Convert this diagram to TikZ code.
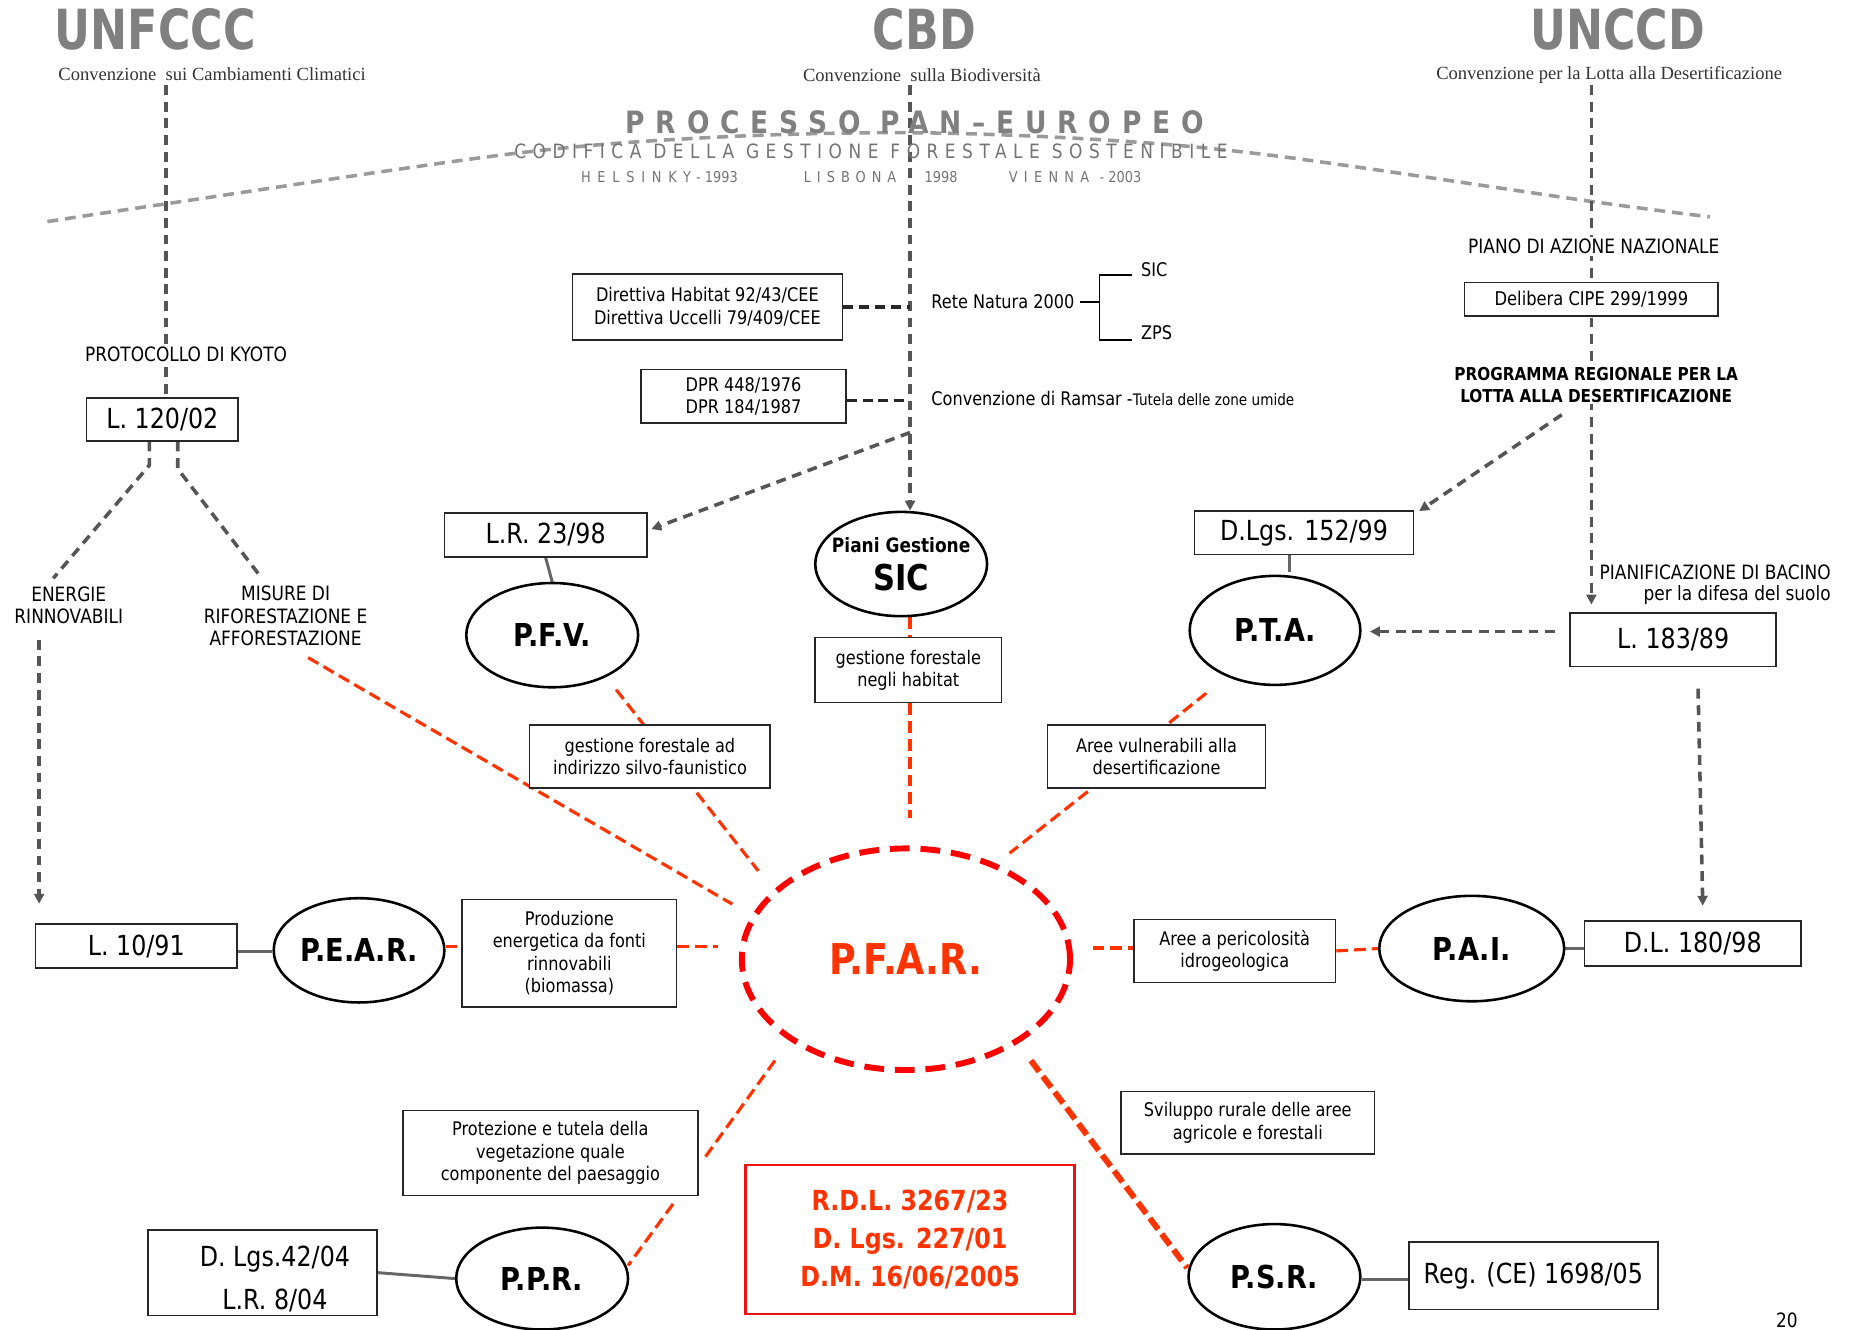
\documentclass[tikz,border=0pt]{standalone}
\usepackage{fontspec}
\setmainfont[FakeStretch=0.86]{DejaVu Sans}
\newfontfamily\ttlfont[FakeStretch=0.8]{DejaVu Sans}
\newfontfamily\serfont{Liberation Serif}
\usetikzlibrary{shapes.geometric,arrows.meta,calc}
\definecolor{dgrey}{HTML}{555555}
\definecolor{lgrey}{HTML}{9A9A9A}
\definecolor{tgrey}{HTML}{808080}
\definecolor{ored}{HTML}{FF3300}
\definecolor{pred}{HTML}{FF0000}
\definecolor{boxred}{HTML}{EE1111}
\pgfdeclarelayer{bg}
\pgfsetlayers{bg,main}
\begin{document}
\begin{tikzpicture}[x=0.6pt,y=-0.6pt,
  box/.style={draw=black!85, line width=0.8pt, fill=white, inner sep=0pt, align=center, font=\fontsize{9.5}{11.4}\selectfont},
  bigbox/.style={box, font=\fontsize{14}{16}\selectfont},
  ell/.style={ellipse, draw=black, line width=1.3pt, fill=white, inner sep=0pt, align=center, font=\bfseries\fontsize{16}{18}\selectfont},
  lbl/.style={align=center, inner sep=1pt, font=\fontsize{10}{11.4}\selectfont},
  title/.style={text=tgrey, font=\ttlfont\bfseries\fontsize{28}{30}\selectfont, inner sep=0pt},
  subt/.style={text=black!80, font=\serfont\fontsize{9.4}{11}\selectfont, inner sep=1pt},
  gdash/.style={draw=dgrey, line width=1.8pt, dash pattern=on 5pt off 3.4pt},
  kdash/.style={draw=black!85, line width=1.8pt, dash pattern=on 5pt off 3pt},
  rdash/.style={draw=ored, line width=1.6pt, dash pattern=on 6pt off 3pt},
  gsolid/.style={draw=black!60, line width=1.5pt},
  tip/.style={-{Triangle[length=5pt,width=5pt]}},
]
\useasboundingbox (0,0) rectangle (1568,1122);

% ---------------- titles ----------------
\node[title] (unfccc) at (131,25) {UNFCCC};
\node[subt] (s1) at (179,63) {Convenzione\ \ sui Cambiamenti Climatici};
\node[title] (cbd) at (780,25) {CBD};
\node[subt] (s2) at (778,63) {Convenzione\ \ sulla Biodiversità};
\node[title] (unccd) at (1365,25) {UNCCD};
\node[subt] (s3) at (1358,63) {Convenzione per la Lotta alla Desertificazione};

\node[text=tgrey, inner sep=0pt, font=\bfseries\fontsize{15.6}{18}\selectfont\addfontfeature{LetterSpace=35}] (pan) at (772,103) {PROCESSO PAN–EUROPEO};
\node[text=black!55, inner sep=0pt, font=\fontsize{10}{12}\selectfont\addfontfeature{LetterSpace=33}] (cod) at (735,128) {CODIFICA DELLA GESTIONE FORESTALE SOSTENIBILE};
\node[text=black!55, anchor=west, inner sep=0pt, font=\fontsize{7.6}{9}\selectfont] (hel) at (490,149) {{\addfontfeature{LetterSpace=45}HELSINKY-} 1993};
\node[text=black!55, anchor=west, inner sep=0pt, font=\fontsize{7.6}{9}\selectfont] (lis) at (678,149) {{\addfontfeature{LetterSpace=40}LISBONA}};
\node[text=black!55, anchor=west, inner sep=0pt, font=\fontsize{7.6}{9}\selectfont] (y98) at (780,149) {1998};
\node[text=black!55, anchor=west, inner sep=0pt, font=\fontsize{7.6}{9}\selectfont] (vie) at (851,149) {{\addfontfeature{LetterSpace=42}VIENNA -} 2003};

% ---------------- text labels ----------------
\node[lbl, fill=white] (kyoto) at (157,299) {PROTOCOLLO DI KYOTO};
\node[lbl] (ener) at (58,511) {ENERGIE\\RINNOVABILI};
\node[lbl] (misure) at (241,520) {MISURE DI\\RIFORESTAZIONE E\\AFFORESTAZIONE};
\node[lbl, anchor=west, font=\fontsize{9.5}{11}\selectfont] (rn) at (784,255) {Rete Natura 2000};
\node[lbl, anchor=west, font=\fontsize{9.5}{11}\selectfont] (sicl) at (961,228) {SIC};
\node[lbl, anchor=west, font=\fontsize{9.5}{11}\selectfont] (zps) at (961,281) {ZPS};
\node[lbl, anchor=west, font=\fontsize{9.5}{11}\selectfont] (ramsar) at (784,336) {Convenzione di Ramsar -{\fontsize{8}{10}\selectfont Tutela delle zone umide}};
\node[lbl, fill=white] (pian) at (1345,208) {PIANO DI AZIONE NAZIONALE};
\node[lbl, fill=white, font=\bfseries\fontsize{9}{10.8}\selectfont] (prog) at (1347,325) {PROGRAMMA REGIONALE PER LA\\LOTTA ALLA DESERTIFICAZIONE};
\node[lbl, anchor=west] (bac1) at (1348,483) {PIANIFICAZIONE DI BACINO};
\node[lbl, anchor=west] (bac2) at (1385,502) {per la difesa del suolo};
\node[lbl, anchor=south, inner sep=0pt] (pg) at (1508,1121) {20};

% ---------------- boxes ----------------
\node[box, minimum width=136.8pt, minimum height=33.6pt] (dir) at (597,259) {Direttiva Habitat 92/43/CEE\\Direttiva Uccelli 79/409/CEE};
\node[box, minimum width=103.8pt, minimum height=27pt] (dpr) at (627.5,334.5) {DPR 448/1976\\DPR 184/1987};
\node[bigbox, minimum width=76.8pt, minimum height=21.6pt] (l120) at (137,354) {L. 120/02};
\node[bigbox, minimum width=102.6pt, minimum height=22.2pt] (lr23) at (460.5,451.5) {L.R. 23/98};
\node[bigbox, minimum width=111pt, minimum height=22.2pt] (dlgs152) at (1100.5,449.5) {D.Lgs. 152/99};
\node[box, minimum width=128.4pt, minimum height=16.8pt, font=\fontsize{9.6}{11}\selectfont] (cipe) at (1343,252.5) {Delibera CIPE 299/1999};
\node[bigbox, minimum width=104.4pt, minimum height=27pt] (l183) at (1412,540) {L. 183/89};
\node[bigbox, minimum width=109.8pt, minimum height=22.8pt] (dl180) at (1428.5,796) {D.L. 180/98};
\node[bigbox, minimum width=102pt, minimum height=22.2pt] (l1091) at (115,798.5) {L. 10/91};
\node[box, minimum width=108.6pt, minimum height=54.6pt] (prod) at (480.5,804.5) {Produzione\\energetica da fonti\\rinnovabili\\(biomassa)};
\node[box, minimum width=121.8pt, minimum height=31.8pt] (gfsf) at (548.5,638.5) {gestione forestale ad\\indirizzo silvo-faunistico};
\node[box, minimum width=94.2pt, minimum height=33pt] (gfh) at (766.5,565.5) {gestione forestale\\negli habitat};
\node[box, minimum width=110.4pt, minimum height=31.8pt] (avd) at (976,638.5) {Aree vulnerabili alla\\desertificazione};
\node[box, minimum width=102pt, minimum height=31.8pt] (api) at (1042,802.5) {Aree a pericolosità\\idrogeologica};
\node[box, minimum width=149.4pt, minimum height=43.2pt] (prot) at (464.5,973) {Protezione e tutela della\\vegetazione quale\\componente del paesaggio};
\node[bigbox, minimum width=115.8pt, minimum height=43.2pt, font=\fontsize{14}{21.6}\selectfont] (dlgs42) at (221.5,1074) {\hspace*{12.6pt}\rule{0pt}{17pt}D. Lgs.42/04\\\hspace*{12.6pt}L.R. 8/04};
\node[box, draw=boxred, line width=1.3pt, text=ored, minimum width=166.8pt, minimum height=75.6pt, font=\bfseries\fontsize{14}{19.2}\selectfont] (rdl) at (768,1046) {R.D.L. 3267/23\\D. Lgs. 227/01\\D.M. 16/06/2005};
\node[box, minimum width=128.4pt, minimum height=31.8pt] (svil) at (1053,947.5) {Sviluppo rurale delle aree\\agricole e forestali};
\node[bigbox, minimum width=126pt, minimum height=34.2pt] (reg) at (1294,1076.5) {Reg. (CE) 1698/05};

% ---------------- ellipses ----------------
\node[ell, minimum width=86.4pt, minimum height=52.8pt] (pear) at (303,802) {P.E.A.R.};
\node[ell, minimum width=87pt, minimum height=52.8pt] (pfv) at (466,536) {P.F.V.};
\node[ell, minimum width=87pt, minimum height=52.8pt] (sic) at (760.5,476) {{\fontsize{10}{12}\selectfont\makebox[0pt][c]{Piani Gestione}}\\[1pt]{\fontsize{18}{20}\selectfont\makebox[0pt][c]{SIC}}};
\node[ell, minimum width=86.4pt, minimum height=55.2pt] (pta) at (1076,532) {P.T.A.};
\node[ell, minimum width=93.6pt, minimum height=53.4pt] (pai) at (1242,800.5) {P.A.I.};
\node[ell, draw=pred, line width=3pt, dash pattern=on 10pt off 5.5pt, text=ored, fill=none, minimum width=166.2pt, minimum height=112.2pt, font=\bfseries\fontsize{21.5}{24}\selectfont] (pfar) at (764.5,809.5) {P.F.A.R.};
\node[ell, minimum width=87pt, minimum height=51.6pt] (ppr) at (457.5,1079) {P.P.R.};
\node[ell, minimum width=87pt, minimum height=53.4pt] (psr) at (1075.5,1077.5) {P.S.R.};

% ---------------- connectors ----------------
\begin{pgfonlayer}{bg}
\draw[lgrey, line width=1.8pt, dash pattern=on 5.5pt off 3.5pt] plot[smooth, tension=0.55] coordinates {(40,187) (140,172) (430,130) (600,116) (768,112) (930,118) (1080,132) (1343,170) (1443,183)};

\coordinate (k0) at (140,72);
\coordinate (c0) at (768,72);
\coordinate (r0) at (1343,72);
\draw[gdash] (k0) -- (k0 |- l120.north);
\draw[gdash, tip] (c0) -- (c0 |- sic.north);
\draw[gdash, tip, shorten >=4pt] (r0) -- (r0 |- l183.north);

\coordinate (c1) at (768,365);
\draw[gdash, tip] (c1) -- ($(lr23.east)+(3,-5)$);
\coordinate (p1) at (1318,350);
\draw[gdash, tip] (p1) -- ($(dlgs152.north east)+(4,1)$);
\draw[gdash, tip] ($(l183.west)+(-12,-7)$) -- ($(pta.east)+(7,1)$);
\draw[gdash, tip] ($(l183.south)+(21,18)$) -- ($(dl180.north)+(8.5,-12)$);

\coordinate (e1) at (45,488);
\coordinate (m0) at (221,488);
\draw[gdash] ($(l120.south)+(-11,0)$) -- ++(0,20) -- (e1);
\draw[gdash] ($(l120.south)+(13,0)$) -- ++(0,23) -- (m0);
\coordinate (e2) at (33,540);
\draw[gdash, tip, shorten >=10pt] (e2) -- (e2 |- l1091.north);

\draw[kdash] (dir.east) -- (dir.east -| c0);
\coordinate (d2) at ($(dpr.east)+(0,3.5)$);
\draw[kdash] (d2) -- (d2 -| c0);

% bracket Rete Natura
\draw[black, line width=0.8pt] ($(rn.east)+(3,0)$) -- (928,255);
\draw[black, line width=0.8pt] ($(sicl.west)+(-6,4)$) -| (928,287) -- ($(zps.west)+(-6,6)$);

% grey solid
\draw[gsolid] (lr23.south) -- (pfv.north);
\draw[gsolid] ($(dlgs152.south)+(-12.5,0)$) -- ++(0,14);
\draw[gsolid] ($(l1091.east)+(0,4.5)$) -- ($(pear.west)+(0,1)$);
\draw[gsolid] (pai.east) -- (dl180.west |- pai.east);
\draw[gsolid] (dlgs42.east) -- (ppr.west);
\draw[gsolid] ($(psr.east)+(0,2.5)$) -- ($(reg.west)+(0,3.5)$);

% red dashed
\coordinate (m1) at (260,555); \coordinate (m2) at (618,763);
\draw[rdash] (m1) -- (m2);
\draw[rdash] ($(pear.east)+(0,-3)$) -- ($(prod.west)+(0,-5.5)$);
\coordinate (q1) at (606,799);
\draw[rdash] ($(prod.east)+(0,-5.5)$) -- (q1);
\coordinate (f1) at (520,582);
\draw[rdash] (f1) -- ($(gfsf.north)+(-5.5,0)$);
\coordinate (f2) at (588,669); \coordinate (f3) at (640,735);
\draw[rdash] (f2) -- (f3);
\draw[rdash] ($(sic.south)+(7.5,0)$) -- ($(gfh.north)+(1.5,0)$);
\coordinate (h1) at (768,690);
\draw[rdash] ($(gfh.south)+(1.5,0)$) -- (h1);
\coordinate (a1) at (1018,585);
\draw[rdash] (a1) -- ($(avd.north)+(9,0)$);
\coordinate (a2) at (918,668); \coordinate (a3) at (852,720);
\draw[rdash] (a2) -- (a3);
\coordinate (i1) at (922,800);
\draw[rdash] (i1) -- ($(api.west)+(0,-2.5)$);
\draw[rdash] (api.east) -- (pai.west);
\coordinate (b1) at (654,895); \coordinate (b2) at (594,978);
\draw[rdash] (b1) -- (b2);
\coordinate (b3) at (568,1016); \coordinate (b4) at (530,1068);
\draw[rdash] (b3) -- (b4);
\coordinate (s0) at (870,895);
\draw[ored, line width=3pt, dash pattern=on 7pt off 3pt] (s0) -- (psr.west |- 1003,1070);
\end{pgfonlayer}
\end{tikzpicture}
\end{document}
